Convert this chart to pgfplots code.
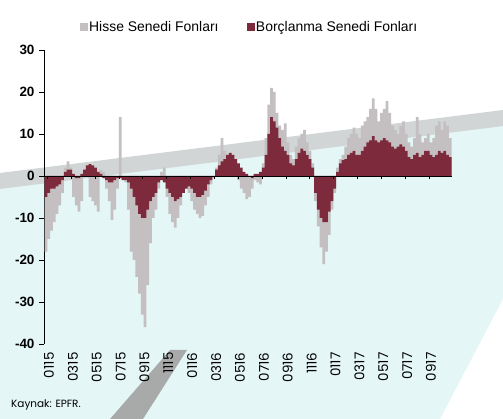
\documentclass[border=0pt]{standalone}
\usepackage{pgfplots}
\pgfplotsset{compat=1.18}
\usepackage{pgfplotstable}
\usepackage{fontspec}
\setmainfont{Liberation Sans}
\newfontfamily\gothic{Poppins}
\definecolor{hisse}{HTML}{C4C0C1}
\definecolor{borc}{HTML}{7D2B3C}
\definecolor{wmcyan}{HTML}{E4F6F6}
\definecolor{wmgray}{HTML}{D2D5D5}

\pgfplotstableread{
w g m
0 -18 -5
1 -15 -4
2 -13 -3
3 -11 -3
4 -9 -2.5
5 -7 -2
6 -4 -1
7 2 1
8 3.5 1.5
9 2 1.5
10 -5 0.5
11 -7 -0.5
12 -8.5 -0.5
13 -6 0.5
14 1.5 1.5
15 2.5 2.5
16 -5 2.8
17 -6 2.5
18 -7 2
19 -8.5 1
20 1.5 0.5
21 1 -0.5
22 -3 -1
23 -6 -1.5
24 -10.5 -1.5
25 -8 -1
26 -3 -0.5
27 14 -0.5
28 -1 -1
29 -1.5 -1
30 -8 -1.5
31 -18 -3
32 -20 -5
33 -24 -7
34 -28 -9
35 -33 -10
36 -36 -10
37 -26 -8
38 -16 -6
39 -10 -5
40 -8 -4
41 -3 -1.5
42 1 -1
43 2 -1.5
44 -5 -3
45 -9 -4
46 -11 -5
47 -12.3 -6
48 -10 -5.5
49 -7 -5
50 -4 -4
51 -3 -3
52 -4 -2.5
53 -6 -3
54 -8 -4
55 -9 -5
56 -10 -5
57 -9.5 -4.5
58 -7 -3.5
59 -5 -2
60 -2 -1
61 -0.5 0
62 2 1.5
63 5 2.5
64 9 3.5
65 6 4
66 5 5
67 5.5 5.5
68 5 5
69 4 4
70 -1 3
71 -3 2
72 -4 1
73 -5.5 0.5
74 -5 0
75 -3 -0.5
76 -1 0.5
77 -1.5 0.5
78 -2 1
79 3 2
80 9 5
81 17 10
82 21 14
83 20 13
84 15 11.5
85 12 9
86 11 7
87 12.5 6
88 8 5
89 5 3
90 4 2.5
91 7 4
92 9 5.5
93 10 6.5
94 11 6
95 8 5
96 6 4
97 3 2
98 -6 -4
99 -12 -8
100 -17 -10
101 -21 -11
102 -18 -11
103 -14 -8.5
104 -8 -6
105 -4 -3
106 2 1
107 4 3
108 5 3.8
109 7 4
110 9 5
111 10 5.5
112 11.5 6
113 10 5
114 9 5
115 12 6
116 13 7
117 14 8
118 16 8.5
119 18.5 9.5
120 16 8.5
121 13 8
122 15 8.5
123 16 9
124 17.8 8.5
125 15 8
126 12 7
127 11 6.5
128 10 7
129 12 7.5
130 13 7
131 10 6
132 8 4.5
133 7 4
134 9 5
135 14 5.5
136 10 4.5
137 8 5
138 9 6
139 10 6
140 8 5
141 9 4.5
142 12 5
143 13 6
144 11 5.5
145 13 6
146 12 5
147 9 4.5
}\flows

\begin{document}
\begin{tikzpicture}
\path[use as bounding box] (0bp,0bp) rectangle (503bp,419bp);
% background watermark
\fill[wmcyan] (0bp,231bp) -- (503bp,294bp) -- (503bp,120bp) -- (440bp,0bp) -- (0bp,0bp) -- cycle;
\fill[wmgray] (0bp,230bp) -- (503bp,293bp) -- (503bp,309bp) -- (0bp,246bp) -- cycle;
\fill[wmgray!80!black] (110bp,0bp) -- (143bp,0bp) -- (187bp,69bp) -- (170bp,69bp) -- cycle;
\begin{axis}[
  at={(44bp,75bp)}, anchor=south west,
  scale only axis, width=411bp, height=294bp,
  xmin=-0.73, xmax=148.73, ymin=-40, ymax=30,
  axis y line*=left, axis x line*=bottom,
  x axis line style={draw=none},
  y axis line style={black, line width=0.6pt},
  ytick={-40,-30,-20,-10,0,10,20,30},
  xtick={1.1,9.78,18.46,27.14,35.82,44.5,53.18,61.86,70.54,79.22,87.9,96.58,105.26,113.94,122.62,131.3,139.98},
  xticklabels={0115,0315,0515,0715,0915,1115,0116,0316,0516,0716,0916,1116,0117,0317,0517,0717,0917},
  xtick style={draw=none},
  ytick style={black, line width=0.6pt},
  tick align=outside, major tick length=5bp,
  /pgf/number format/assume math mode=true,
  yticklabel style={font=\fontsize{13.5}{15}\selectfont\bfseries, xshift=-1bp},
  xticklabel style={rotate=90, anchor=east, font=\gothic\fontsize{13.5}{14}\selectfont},
  ybar, bar width=0.92,
  legend style={at={(axis description cs:0.5,1)}, anchor=center, yshift=23bp,
    draw=none, fill=none, legend columns=2,
    font=\fontsize{14}{16}\selectfont,
    /tikz/every even column/.append style={column sep=26bp}},
]
\addlegendimage{legend image code/.code={\fill[hisse] (0bp,-3.5bp) rectangle (7bp,3.5bp);}}
\addlegendentry{Hisse Senedi Fonları}
\addlegendimage{legend image code/.code={\fill[borc] (0bp,-3.5bp) rectangle (7bp,3.5bp);}}
\addlegendentry{Borçlanma Senedi Fonları}
\addplot[forget plot, bar shift=0pt, fill=hisse, draw=none] table[x=w, y=g] {\flows};
\addplot[forget plot, bar shift=0pt, fill=borc, draw=none] table[x=w, y=m] {\flows};
\draw[black, line width=0.8pt] (axis cs:-0.73,0) -- (axis cs:147.6,0);
\pgfplotsinvokeforeach{0.4,9.1,17.8,26.5,35.1,43.8,52.5,61.2,69.8,78.5,87.2,95.9,104.6,113.2,121.9,130.6,139.3}{
  \draw[black, line width=0.6pt] (axis cs:#1,0) -- ([yshift=-3.5bp]axis cs:#1,0);
}
\end{axis}
\node[anchor=west, font=\gothic\fontsize{10.5}{12}\selectfont, inner sep=0pt] at (11bp,14bp) {Kaynak: EPFR.};
\end{tikzpicture}
\end{document}
